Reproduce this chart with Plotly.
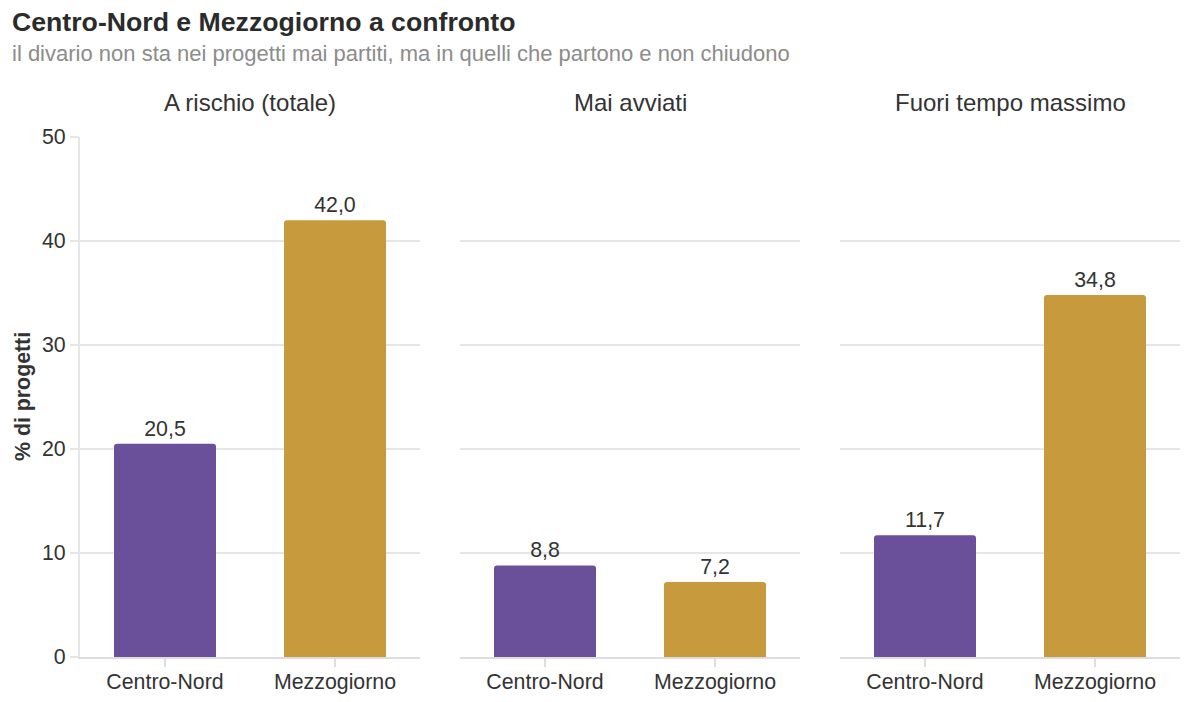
import plotly.graph_objects as go

panels = ["A rischio (totale)", "Mai avviati", "Fuori tempo massimo"]
categories = ["Centro-Nord", "Mezzogiorno"]
centro_nord = [20.5, 8.8, 11.7]
mezzogiorno = [42.0, 7.2, 34.8]
colors = ["#6A4F9B", "#C79B3D"]
y_ticks = [0, 10, 20, 30, 40, 50]

W, H = 1190, 702
ml, mr, mt, mb = 80, 10, 137, 45
pw = W - ml - mr
domains = [(0, 340 / pw), (380 / pw, 720 / pw), (760 / pw, 1.0)]

FONT = "Liberation Sans, Arial, Helvetica, sans-serif"
TXT = 21.33
fig = go.Figure()

for i, name in enumerate(panels):
    xa = "x" if i == 0 else f"x{i+1}"
    ya = "y" if i == 0 else f"y{i+1}"
    vals = [centro_nord[i], mezzogiorno[i]]
    fig.add_trace(go.Bar(
        x=categories, y=vals, xaxis=xa, yaxis=ya,
        marker=dict(color=colors, cornerradius=3, line=dict(width=0)),
        width=0.6,
        texttemplate="%{y:.1f}", textposition="outside",
        textfont=dict(size=TXT, color="#333333", family=FONT),
        cliponaxis=False, showlegend=False, hoverinfo="skip",
    ))
    key = "" if i == 0 else str(i + 1)
    fig.layout["xaxis" + key] = dict(
        domain=domains[i], anchor=ya, showgrid=False, automargin=False,
        showline=True, linecolor="#dddddd", linewidth=2,
        ticks="outside", ticklen=8, tickwidth=2, tickcolor="#dddddd",
        ticklabelstandoff=-4,
        tickfont=dict(size=TXT, color="#333333", family=FONT),
        fixedrange=True,
    )
    yax = dict(
        domain=[0, 1], anchor=xa, range=[0, 50], tickvals=y_ticks,
        showgrid=True, gridcolor="#e6e6e6", gridwidth=1.5, automargin=False,
        zeroline=False, fixedrange=True,
    )
    if i == 0:
        yax.update(
            showticklabels=True, showline=True, linecolor="#e6e6e6", linewidth=2,
            ticks="outside", ticklen=8, tickwidth=2, tickcolor="#e6e6e6",
            tickfont=dict(size=TXT, color="#333333", family=FONT),
        )
    else:
        yax.update(showticklabels=False, showline=False, ticks="", matches="y")
    fig.layout["yaxis" + key] = yax
    fig.add_annotation(
        text=name, xref="paper", yref="paper",
        x=(domains[i][0] + domains[i][1]) / 2, y=1, yshift=35,
        showarrow=False, xanchor="center", yanchor="middle",
        font=dict(size=24, color="#333333", family=FONT),
    )

fig.add_annotation(
    text="<b>% di progetti</b>", xref="paper", yref="paper",
    x=0, xshift=-ml + 23, y=0.5, showarrow=False, textangle=-90,
    xanchor="center", yanchor="middle",
    font=dict(size=TXT, color="#333333", family=FONT),
)
fig.add_annotation(
    text="<b>Centro-Nord e Mezzogiorno a confronto</b>", xref="paper", yref="paper",
    x=0, xshift=-ml + 10, y=1, yshift=mt - 22, showarrow=False,
    xanchor="left", yanchor="middle",
    font=dict(size=26.67, color="#2b2b2b", family=FONT),
)
fig.add_annotation(
    text="il divario non sta nei progetti mai partiti, ma in quelli che partono e non chiudono",
    xref="paper", yref="paper",
    x=0, xshift=-ml + 10, y=1, yshift=mt - 53, showarrow=False,
    xanchor="left", yanchor="middle",
    font=dict(size=22, color="#8c8c8c", family=FONT),
)

fig.update_layout(
    width=W, height=H,
    margin=dict(l=ml, r=mr, t=mt, b=mb),
    plot_bgcolor="white", paper_bgcolor="white",
    separators=",.",
    font=dict(family=FONT, color="#333333"),
    bargap=0.4,
)

fig.write_html("out.html", config={"displayModeBar": False})
